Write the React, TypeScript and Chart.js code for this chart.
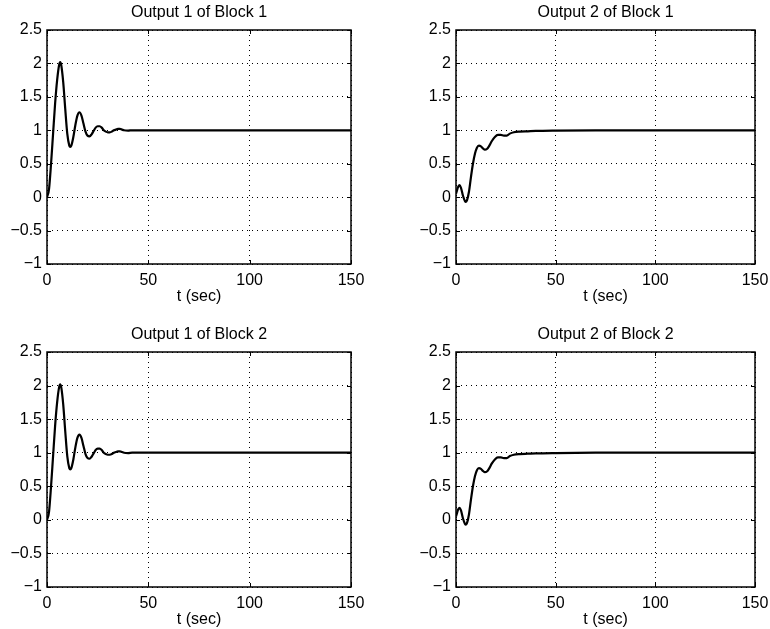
import React, { useEffect, useRef } from "react";
import { Chart, registerables } from "chart.js";

Chart.register(...registerables);

// ---- data ----
const out1Times = [0, 1, 2, 3, 4, 5, 6, 6.5, 7, 8, 9, 10, 11, 11.5, 12, 13, 14, 15, 16, 17, 18, 19, 20, 21, 22, 23, 24, 25, 26, 27, 28, 29, 30, 31, 32, 33, 34, 35, 36, 37, 38, 40, 42, 50, 100, 150];
const out1Block1 = [0, 0.12, 0.5, 0.95, 1.4, 1.75, 1.98, 2.02, 1.98, 1.72, 1.32, 0.95, 0.77, 0.75, 0.77, 0.9, 1.08, 1.22, 1.27, 1.22, 1.1, 0.98, 0.92, 0.91, 0.94, 0.99, 1.04, 1.06, 1.06, 1.04, 1.0, 0.98, 0.97, 0.97, 0.98, 1.0, 1.01, 1.02, 1.02, 1.01, 1.0, 0.995, 1.0, 1.0, 1.0, 1.0];
const out1Block2 = [0, 0.12, 0.5, 0.95, 1.4, 1.75, 1.98, 2.02, 1.98, 1.72, 1.32, 0.95, 0.77, 0.75, 0.77, 0.9, 1.08, 1.22, 1.27, 1.22, 1.1, 0.98, 0.92, 0.91, 0.94, 0.99, 1.04, 1.06, 1.06, 1.04, 1.0, 0.98, 0.97, 0.97, 0.98, 1.0, 1.01, 1.02, 1.02, 1.01, 1.0, 0.995, 1.0, 1.0, 1.0, 1.0];

const out2Times = [0, 0.5, 1, 1.7, 2.5, 3.5, 4.5, 5, 5.5, 6.5, 7.5, 8.5, 9.5, 10.5, 11.5, 12.5, 13.5, 14.5, 15.5, 16.5, 18, 19.5, 21, 22.5, 24, 25.5, 27, 29, 32, 36, 40, 50, 70, 100, 150];
const out2Block1 = [0.05, 0.1, 0.15, 0.18, 0.14, 0.02, -0.06, -0.07, -0.05, 0.08, 0.3, 0.5, 0.65, 0.74, 0.77, 0.76, 0.73, 0.71, 0.72, 0.76, 0.84, 0.9, 0.93, 0.93, 0.92, 0.92, 0.95, 0.97, 0.98, 0.985, 0.99, 0.995, 1.0, 1.0, 1.0];
const out2Block2 = [0.05, 0.1, 0.15, 0.18, 0.14, 0.02, -0.06, -0.07, -0.05, 0.08, 0.3, 0.5, 0.65, 0.74, 0.77, 0.76, 0.73, 0.71, 0.72, 0.76, 0.84, 0.9, 0.93, 0.93, 0.92, 0.92, 0.95, 0.97, 0.98, 0.985, 0.99, 0.995, 1.0, 1.0, 1.0];

const xTicks = [0, 50, 100, 150];
const yTicks = [-1, -0.5, 0, 0.5, 1, 1.5, 2, 2.5];
const yTickLabels = ["\u22121", "\u22120.5", "0", "0.5", "1", "1.5", "2", "2.5"];
const xAxisLabel = "t (sec)";
const titles = ["Output 1 of Block 1", "Output 2 of Block 1", "Output 1 of Block 2", "Output 2 of Block 2"];

const FONT = "'Liberation Sans', Arial, Helvetica, sans-serif";

const boxPlugin = {
  id: "matlabBox",
  afterDatasetsDraw(chart: any) {
    const { ctx, chartArea } = chart;
    const xs = chart.scales.x;
    const ys = chart.scales.y;
    ctx.save();
    ctx.strokeStyle = "#000";
    ctx.lineWidth = 1.5;
    ctx.setLineDash([]);
    ctx.strokeRect(chartArea.left, chartArea.top, chartArea.right - chartArea.left, chartArea.bottom - chartArea.top);
    const tl = 4;
    ctx.lineWidth = 1;
    ctx.beginPath();
    xTicks.forEach((v) => {
      const px = Math.round(xs.getPixelForValue(v)) + 0.5;
      ctx.moveTo(px, chartArea.bottom);
      ctx.lineTo(px, chartArea.bottom - tl);
      ctx.moveTo(px, chartArea.top);
      ctx.lineTo(px, chartArea.top + tl);
    });
    yTicks.forEach((v) => {
      const py = Math.round(ys.getPixelForValue(v)) + 0.5;
      ctx.moveTo(chartArea.left, py);
      ctx.lineTo(chartArea.left + tl, py);
      ctx.moveTo(chartArea.right, py);
      ctx.lineTo(chartArea.right - tl, py);
    });
    ctx.stroke();
    ctx.restore();
  },
};

type SubProps = {
  title: string;
  times: number[];
  values: number[];
  left: number;
  top: number;
  width: number;
  height: number;
};

const RIGHT_PAD = 30;

function Subplot({ title, times, values, left, top, width, height }: SubProps) {
  const ref = useRef<HTMLCanvasElement | null>(null);
  useEffect(() => {
    if (!ref.current) return;
    const chart = new Chart(ref.current, {
      type: "line",
      data: {
        datasets: [
          {
            data: times.map((t, i) => ({ x: t, y: values[i] })),
            borderColor: "#000",
            borderWidth: 2.2,
            pointRadius: 0,
            cubicInterpolationMode: "monotone",
            fill: false,
          },
        ],
      },
      plugins: [boxPlugin],
      options: {
        animation: false,
        responsive: false,
        devicePixelRatio: 1,
        layout: { padding: { left: 0, right: RIGHT_PAD, top: 0, bottom: 0 } },
        plugins: {
          legend: { display: false },
          tooltip: { enabled: false },
          title: {
            display: true,
            text: title,
            fullSize: false,
            color: "#000",
            font: { family: FONT, size: 16, weight: "normal", lineHeight: 1.2 },
            padding: { top: 3.4, bottom: 7.4 },
          },
        },
        scales: {
          x: {
            type: "linear",
            min: 0,
            max: 150,
            afterBuildTicks: (s: any) => {
              s.ticks = xTicks.map((v) => ({ value: v }));
            },
            afterFit: (s: any) => {
              s.height = 46;
            },
            ticks: {
              color: "#000",
              padding: 6.5,
              maxRotation: 0,
              font: { family: FONT, size: 16, lineHeight: 1.2 },
              callback: (v: any) => String(v),
            },
            grid: { color: "#000", lineWidth: 1, drawTicks: false },
            border: { display: false, dash: [1, 4] },
            title: {
              display: true,
              text: xAxisLabel,
              color: "#000",
              font: { family: FONT, size: 16, lineHeight: 1.2 },
              padding: { top: 0, bottom: 3.4 },
            },
          },
          y: {
            type: "linear",
            min: -1,
            max: 2.5,
            afterBuildTicks: (s: any) => {
              s.ticks = yTicks.map((v) => ({ value: v }));
            },
            afterFit: (s: any) => {
              s.width = 47;
            },
            ticks: {
              color: "#000",
              padding: 5,
              font: { family: FONT, size: 16, lineHeight: 1.2 },
              callback: (v: any) => {
                const i = yTicks.indexOf(Number(v));
                return i >= 0 ? yTickLabels[i] : "";
              },
            },
            grid: { color: "#000", lineWidth: 1, drawTicks: false },
            border: { display: false, dash: [1, 4] },
          },
        },
      } as any,
    });
    return () => chart.destroy();
  }, [title, times, values]);
  return (
    <canvas
      ref={ref}
      width={width}
      height={height}
      style={{ position: "absolute", left, top, width, height }}
    />
  );
}

export default function App() {
  return (
    <div
      style={{
        position: "fixed",
        left: 0,
        top: 0,
        width: 770,
        height: 629,
        background: "#fff",
        overflow: "hidden",
      }}
    >
      <Subplot title={titles[0]} times={out1Times} values={out1Block1} left={0} top={0} width={351 + RIGHT_PAD} height={310} />
      <Subplot title={titles[1]} times={out2Times} values={out2Block1} left={409} top={0} width={755 - 409 + RIGHT_PAD} height={310} />
      <Subplot title={titles[2]} times={out1Times} values={out1Block2} left={0} top={322} width={351 + RIGHT_PAD} height={311} />
      <Subplot title={titles[3]} times={out2Times} values={out2Block2} left={409} top={322} width={755 - 409 + RIGHT_PAD} height={311} />
    </div>
  );
}
